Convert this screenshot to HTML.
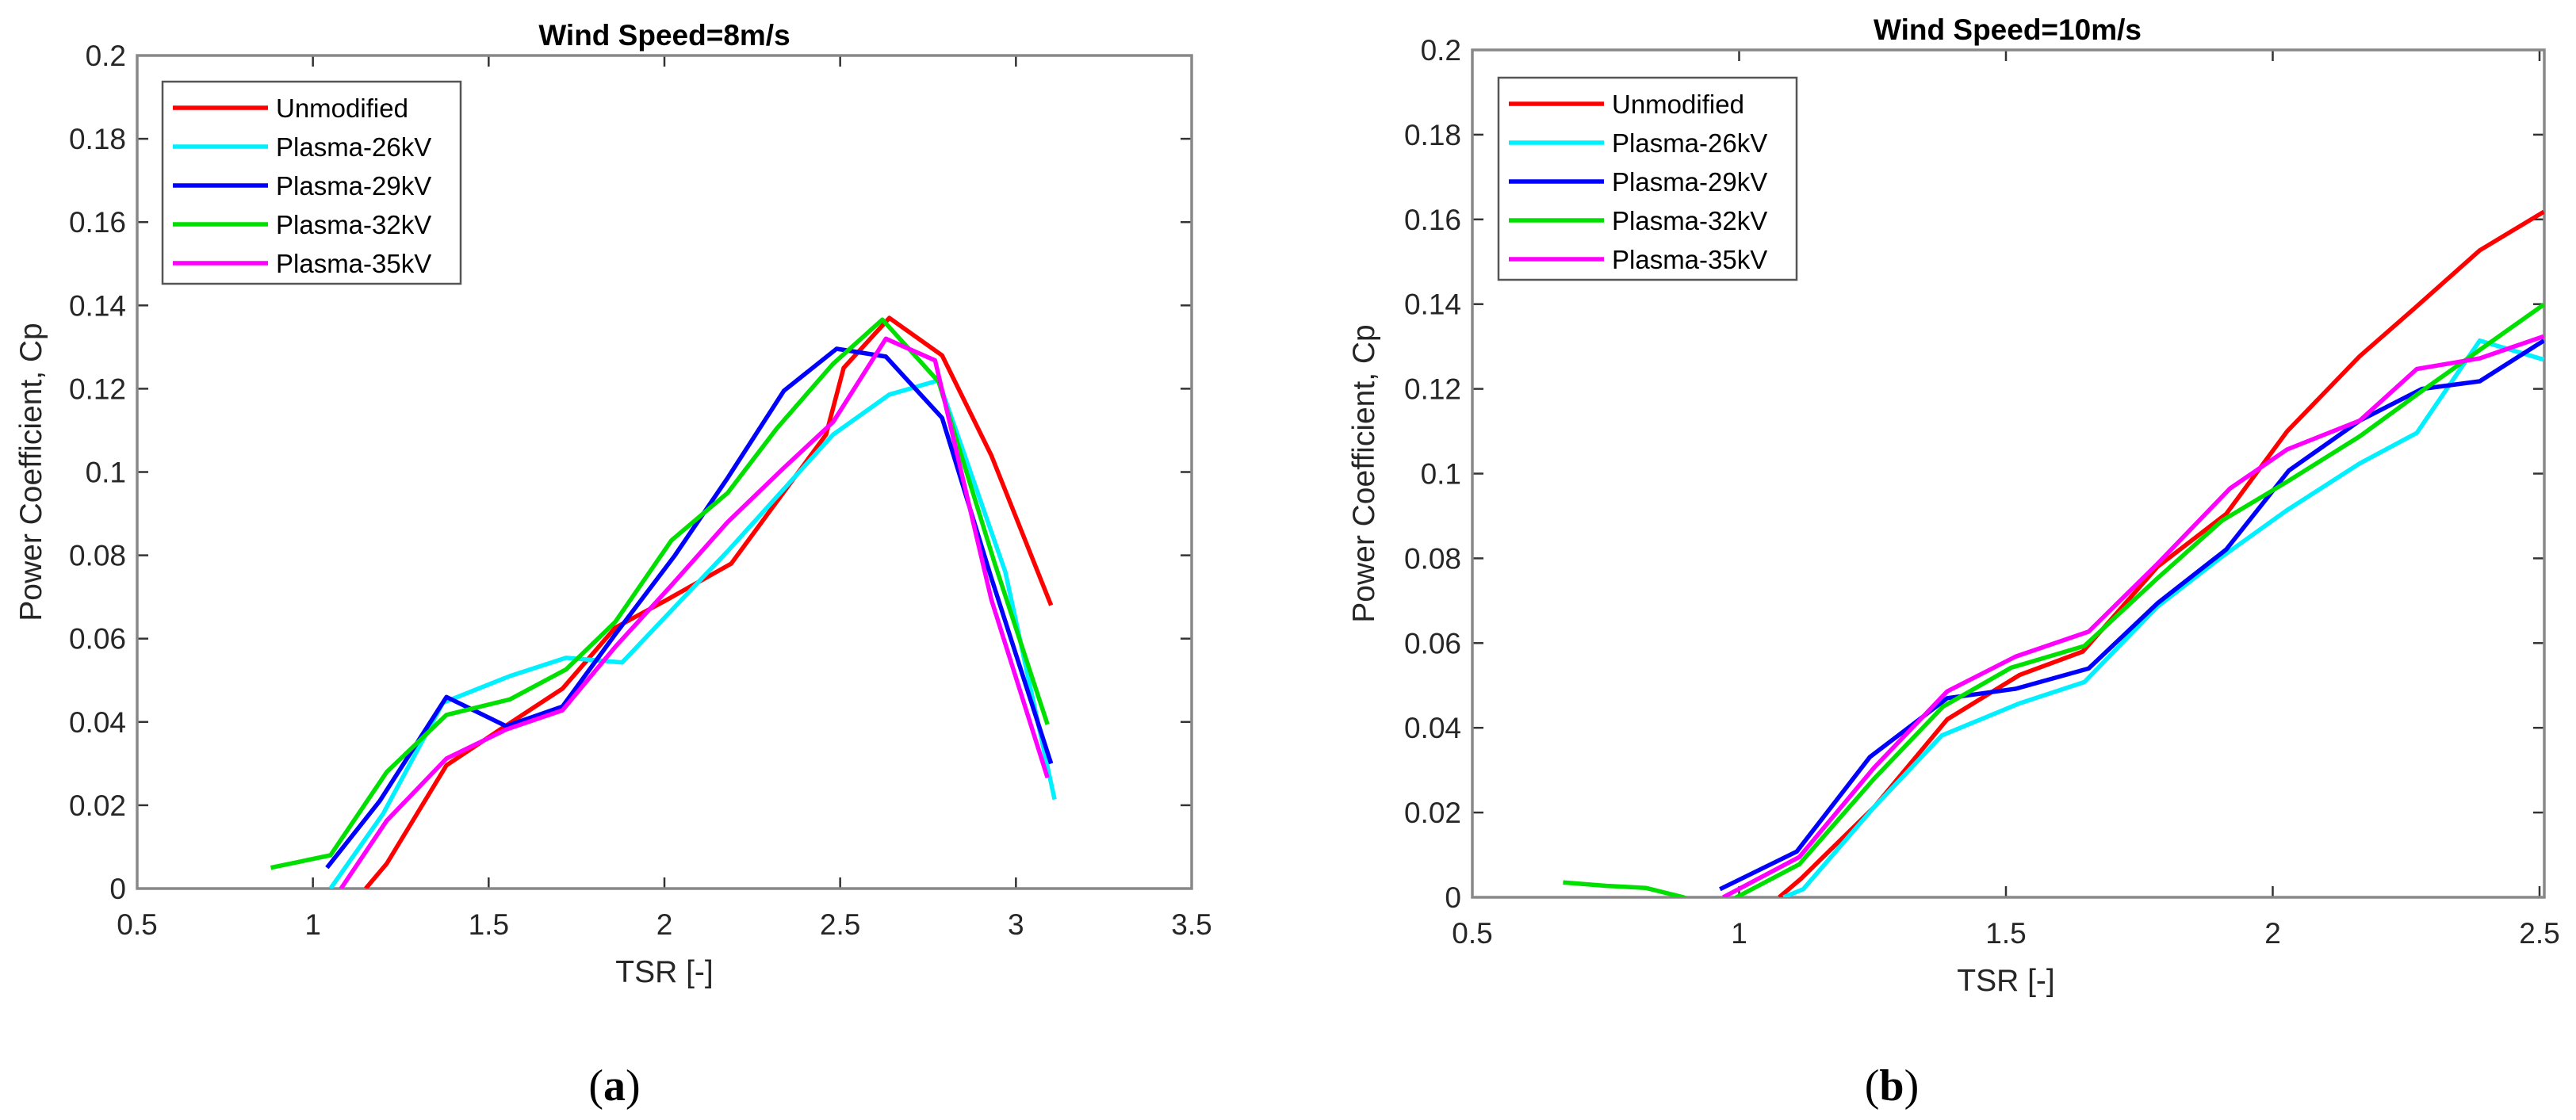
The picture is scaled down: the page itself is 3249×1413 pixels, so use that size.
<!DOCTYPE html>
<html><head><meta charset="utf-8"><style>
html,body{margin:0;padding:0;background:#fff;}
svg{display:block;font-family:"Liberation Sans",Arial,sans-serif;}
</style></head><body>
<svg id="fig" width="3249" height="1413" viewBox="0 0 3249 1413" xmlns="http://www.w3.org/2000/svg"></svg>
<script>
const seriesNames = ["Unmodified","Plasma-26kV","Plasma-29kV","Plasma-32kV","Plasma-35kV"];
const seriesColors = ["#ff0000","#00f0ff","#0000ff","#00e000","#ff00ff"];
const yTicks = [0,0.02,0.04,0.06,0.08,0.1,0.12,0.14,0.16,0.18,0.2];
const yTickLabels = ["0","0.02","0.04","0.06","0.08","0.1","0.12","0.14","0.16","0.18","0.2"];
const xTicksA = [0.5,1,1.5,2,2.5,3,3.5];
const xTickLabelsA = ["0.5","1","1.5","2","2.5","3","3.5"];
const xTicksB = [0.5,1,1.5,2,2.5];
const xTickLabelsB = ["0.5","1","1.5","2","2.5"];

// Chart (a) data, wind speed 8 m/s
const aUnmodX = [1.15,1.21,1.38,1.54,1.71,1.86,2.0,2.19,2.46,2.51,2.64,2.79,2.93,3.1];
const aUnmodY = [0,0.006,0.0296,0.0386,0.048,0.0626,0.069,0.078,0.109,0.125,0.137,0.128,0.104,0.068];
const a26X = [1.05,1.2,1.37,1.56,1.72,1.88,2.18,2.48,2.64,2.78,2.97,3.11];
const a26Y = [0,0.018,0.0446,0.051,0.0554,0.0543,0.081,0.109,0.1186,0.122,0.076,0.0214];
const a29X = [1.04,1.19,1.38,1.55,1.71,1.86,2.03,2.18,2.34,2.49,2.63,2.79,2.93,3.1];
const a29Y = [0.005,0.021,0.046,0.039,0.0437,0.061,0.08,0.0986,0.1195,0.1296,0.1277,0.113,0.0746,0.030];
const a32X = [0.88,1.05,1.21,1.38,1.56,1.72,1.86,2.02,2.18,2.32,2.48,2.62,2.78,2.94,3.09];
const a32Y = [0.005,0.008,0.028,0.0417,0.0454,0.0526,0.064,0.0836,0.095,0.1105,0.126,0.1366,0.1217,0.078,0.0394];
const a35X = [1.08,1.21,1.38,1.55,1.71,1.86,2.02,2.18,2.34,2.48,2.63,2.77,2.93,3.09];
const a35Y = [0,0.0163,0.0312,0.0382,0.0428,0.058,0.0728,0.088,0.101,0.112,0.132,0.1268,0.0694,0.0266];

// Chart (b) data, wind speed 10 m/s
const bUnmodX = [1.075,1.116,1.253,1.39,1.526,1.644,1.784,1.913,2.027,2.163,2.27,2.388,2.508];
const bUnmodY = [0,0.0044,0.0213,0.042,0.0525,0.058,0.078,0.0905,0.11,0.1277,0.1395,0.1527,0.1618];
const b26X = [1.083,1.12,1.253,1.38,1.526,1.647,1.784,1.905,2.027,2.163,2.27,2.388,2.508];
const b26Y = [0,0.0019,0.0213,0.0382,0.0458,0.0508,0.0686,0.0804,0.0914,0.1024,0.1096,0.1314,0.1269];
const b29X = [0.964,1.108,1.245,1.39,1.518,1.655,1.784,1.913,2.03,2.163,2.28,2.388,2.508];
const b29Y = [0.0019,0.0108,0.0331,0.047,0.0492,0.054,0.0694,0.0821,0.1007,0.1125,0.12,0.1218,0.1314];
const b32X = [0.67,0.752,0.825,0.896,0.95,0.995,1.113,1.253,1.382,1.51,1.647,1.784,1.905,2.027,2.163,2.285,2.508];
const b32Y = [0.0035,0.0027,0.0022,0,-0.004,0,0.0078,0.028,0.045,0.0542,0.0593,0.0753,0.0889,0.0981,0.1088,0.12,0.1399];
const b35X = [0.97,1.113,1.253,1.39,1.518,1.655,1.784,1.92,2.027,2.163,2.27,2.388,2.508];
const b35Y = [0,0.0095,0.0306,0.0486,0.0568,0.0627,0.0787,0.0965,0.1057,0.1125,0.1247,0.1272,0.1324];

const NS="http://www.w3.org/2000/svg";
const svg=document.getElementById('fig');
function mk(tag,attrs,parent){const e=document.createElementNS(NS,tag);for(const k in attrs)e.setAttribute(k,attrs[k]);(parent||svg).appendChild(e);return e;}

function drawChart(cfg){
  const g=mk('g',{});
  
  
  const sx=v=>cfg.L+(v-cfg.x0)/(cfg.x1-cfg.x0)*(cfg.Rt-cfg.L);
  const sy=v=>cfg.B-(v-0)/(0.2)*(cfg.B-cfg.T);
  const cp=mk('clipPath',{id:cfg.id+'clip'},g);
  mk('rect',{x:cfg.L,y:cfg.T,width:cfg.R-cfg.L,height:cfg.B-cfg.T},cp);
  // y ticks
  yTicks.forEach((v,i)=>{
    const y=sy(v);
    const t1=mk('line',{x1:cfg.L,x2:cfg.L+14,y1:y,y2:y,stroke:'#333','stroke-width':2.5},g);
    
    
    mk('line',{x1:cfg.R,x2:cfg.R-14,y1:y,y2:y,stroke:'#333','stroke-width':2.5},g);
    const tx=mk('text',{x:cfg.L-14,y:y+13,'text-anchor':'end','font-size':37,fill:'#262626'},g);
    tx.textContent=yTickLabels[i];
    
    
  });
  cfg.xt.forEach((v,i)=>{
    const x=sx(v);
    const t1=mk('line',{x1:x,x2:x,y1:cfg.B,y2:cfg.B-14,stroke:'#333','stroke-width':2.5},g);
    
    
    mk('line',{x1:x,x2:x,y1:cfg.T,y2:cfg.T+14,stroke:'#333','stroke-width':2.5},g);
    const tx=mk('text',{x:x,y:cfg.B+58,'text-anchor':'middle','font-size':37,fill:'#262626'},g);
    tx.textContent=cfg.xl[i];
    
    
  });
  const box=mk('rect',{x:cfg.L,y:cfg.T,width:cfg.R-cfg.L,height:cfg.B-cfg.T,fill:'none',stroke:'#888','stroke-width':3.5},g);
  
  
  cfg.series.forEach((s,i)=>{
    const pts=s[0].map((xv,j)=>sx(xv).toFixed(1)+','+sy(s[1][j]).toFixed(1)).join(' ');
    const pl=mk('polyline',{points:pts,fill:'none',stroke:seriesColors[i],'stroke-width':5.5,'stroke-linejoin':'round','clip-path':'url(#'+cfg.id+'clip)'},g);
    
    
  });
  const lg=mk('g',{},g);
  
  
  mk('rect',{x:cfg.lx,y:cfg.ly,width:376,height:255,fill:'#fff',stroke:'#555','stroke-width':2.5},lg);
  seriesNames.forEach((n,i)=>{
    const y=cfg.ly+33+i*49;
    mk('line',{x1:cfg.lx+13,x2:cfg.lx+133,y1:y,y2:y,stroke:seriesColors[i],'stroke-width':5.5},lg);
    const t=mk('text',{x:cfg.lx+143,y:y+12,'font-size':33,fill:'#000'},lg);
    t.textContent=n;
    
    
  });
  const ti=mk('text',{x:cfg.tx,y:cfg.ty,'text-anchor':'middle','font-size':37,'font-weight':'bold',fill:'#000'},g);
  ti.textContent=cfg.title;
  
  
  const xl=mk('text',{x:(cfg.L+cfg.Rt)/2,y:cfg.B+118,'text-anchor':'middle','font-size':39,fill:'#262626'},g);
  xl.textContent='TSR [-]';
  
  
  const yl=mk('text',{x:0,y:0,'text-anchor':'middle','font-size':39,fill:'#262626',transform:'translate('+(cfg.ylx)+','+((cfg.T+cfg.B)/2)+') rotate(-90)'},g);
  yl.textContent='Power Coefficient, Cp';
  
  
  const cap=mk('text',{x:cfg.capx,y:1388,'text-anchor':'middle','font-size':56,fill:'#000','font-family':'"Liberation Serif",serif'},g);
  cap.innerHTML='(<tspan font-weight="bold">'+cfg.cap+'</tspan>)';
  
  
}

drawChart({id:'a',L:173,R:1503,Rt:1503,T:70,B:1121,x0:0.5,x1:3.5,xt:xTicksA,xl:xTickLabelsA,
  lx:205,ly:103,tx:838,ty:57,title:'Wind Speed=8m/s',ylx:52,capx:775,cap:'a',
  series:[[aUnmodX,aUnmodY],[a26X,a26Y],[a29X,a29Y],[a32X,a32Y],[a35X,a35Y]]});
drawChart({id:'b',L:1857,R:3209,Rt:3203,T:63,B:1132,x0:0.5,x1:2.5,xt:xTicksB,xl:xTickLabelsB,
  lx:1890,ly:98,tx:2532,ty:50,title:'Wind Speed=10m/s',ylx:1733,capx:2386,cap:'b',
  series:[[bUnmodX,bUnmodY],[b26X,b26Y],[b29X,b29Y],[b32X,b32Y],[b35X,b35Y]]});
</script>
</body></html>
